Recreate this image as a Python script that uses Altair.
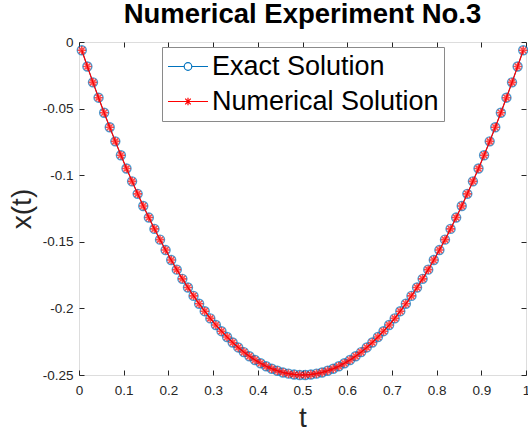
import altair as alt
import pandas as pd

# ---- data ----
t = [0.00625, 0.01875, 0.03125, 0.04375, 0.05625, 0.06875, 0.08125, 0.09375,
     0.10625, 0.11875, 0.13125, 0.14375, 0.15625, 0.16875, 0.18125, 0.19375,
     0.20625, 0.21875, 0.23125, 0.24375, 0.25625, 0.26875, 0.28125, 0.29375,
     0.30625, 0.31875, 0.33125, 0.34375, 0.35625, 0.36875, 0.38125, 0.39375,
     0.40625, 0.41875, 0.43125, 0.44375, 0.45625, 0.46875, 0.48125, 0.49375,
     0.50625, 0.51875, 0.53125, 0.54375, 0.55625, 0.56875, 0.58125, 0.59375,
     0.60625, 0.61875, 0.63125, 0.64375, 0.65625, 0.66875, 0.68125, 0.69375,
     0.70625, 0.71875, 0.73125, 0.74375, 0.75625, 0.76875, 0.78125, 0.79375,
     0.80625, 0.81875, 0.83125, 0.84375, 0.85625, 0.86875, 0.88125, 0.89375,
     0.90625, 0.91875, 0.93125, 0.94375, 0.95625, 0.96875, 0.98125, 0.99375]

exact = [-0.0062, -0.0184, -0.0303, -0.0418, -0.0531, -0.0640, -0.0746, -0.0850,
         -0.0950, -0.1046, -0.1140, -0.1231, -0.1318, -0.1403, -0.1484, -0.1562,
         -0.1637, -0.1709, -0.1778, -0.1843, -0.1906, -0.1965, -0.2021, -0.2075,
         -0.2125, -0.2171, -0.2215, -0.2256, -0.2293, -0.2328, -0.2359, -0.2387,
         -0.2412, -0.2434, -0.2453, -0.2468, -0.2481, -0.2490, -0.2496, -0.2500,
         -0.2500, -0.2496, -0.2490, -0.2481, -0.2468, -0.2453, -0.2434, -0.2412,
         -0.2387, -0.2359, -0.2328, -0.2293, -0.2256, -0.2215, -0.2171, -0.2125,
         -0.2075, -0.2021, -0.1965, -0.1906, -0.1843, -0.1778, -0.1709, -0.1637,
         -0.1562, -0.1484, -0.1403, -0.1318, -0.1231, -0.1140, -0.1046, -0.0950,
         -0.0850, -0.0746, -0.0640, -0.0531, -0.0418, -0.0303, -0.0184, -0.0062]

numerical = [-0.0062, -0.0184, -0.0303, -0.0418, -0.0531, -0.0640, -0.0746, -0.0850,
             -0.0950, -0.1046, -0.1140, -0.1231, -0.1318, -0.1403, -0.1484, -0.1562,
             -0.1637, -0.1709, -0.1778, -0.1843, -0.1906, -0.1965, -0.2021, -0.2075,
             -0.2125, -0.2171, -0.2215, -0.2256, -0.2293, -0.2328, -0.2359, -0.2387,
             -0.2412, -0.2434, -0.2453, -0.2468, -0.2481, -0.2490, -0.2496, -0.2500,
             -0.2500, -0.2496, -0.2490, -0.2481, -0.2468, -0.2453, -0.2434, -0.2412,
             -0.2387, -0.2359, -0.2328, -0.2293, -0.2256, -0.2215, -0.2171, -0.2125,
             -0.2075, -0.2021, -0.1965, -0.1906, -0.1843, -0.1778, -0.1709, -0.1637,
             -0.1562, -0.1484, -0.1403, -0.1318, -0.1231, -0.1140, -0.1046, -0.0950,
             -0.0850, -0.0746, -0.0640, -0.0531, -0.0418, -0.0303, -0.0184, -0.0062]

series_names = ["Exact Solution", "Numerical Solution"]
x_ticks = [0, 0.1, 0.2, 0.3, 0.4, 0.5, 0.6, 0.7, 0.8, 0.9, 1]
y_ticks = [-0.25, -0.2, -0.15, -0.1, -0.05, 0]

df = pd.DataFrame({
    "t": t + t,
    "x": exact + numerical,
    "series": [series_names[0]] * len(t) + [series_names[1]] * len(t),
})

FONT = "Liberation Sans"
BLUE = "#0072BD"
RED = "#FF0000"
AX = "#262626"

ASTER = "M-1,0H1M0,-1V1M-0.7,-0.7L0.7,0.7M-0.7,0.7L0.7,-0.7"
LEG_EXACT = "M-1,0H-0.19M0.19,0H1M0.19,0A0.19,0.19 0 1 1 -0.19,0A0.19,0.19 0 1 1 0.19,0Z"
LEG_NUM = "M-1,0H1M0,-0.19V0.19M-0.14,-0.14L0.14,0.14M-0.14,0.14L0.14,-0.14"

xs = alt.Scale(domain=[0, 1], nice=False, zero=False)
ys = alt.Scale(domain=[-0.25, 0], nice=False, zero=False)

label_x_axis = alt.Axis(
    orient="bottom", values=x_ticks, labelExpr="'' + datum.value",
    ticks=False, tickSize=0, domain=False, grid=False,
    labelFont=FONT, labelFontSize=13.5, labelColor=AX, labelPadding=8,
    labelFlush=False, labelOverlap=False, labelBound=False,
    title="t", titleFont=FONT, titleFontSize=28, titleFontWeight="normal",
    titleColor=AX, titleX=223.5, titleY=51, titleBaseline="alphabetic",
)
label_y_axis = alt.Axis(
    orient="left", values=y_ticks, labelExpr="'' + datum.value",
    ticks=False, tickSize=0, domain=False, grid=False,
    labelFont=FONT, labelFontSize=13.5, labelColor=AX, labelPadding=6,
    labelFlush=False, labelOverlap=False, labelBound=False, labelBaseline="middle",
    title="x(t)", titleFont=FONT, titleFontSize=28, titleFontWeight="normal",
    titleColor=AX, titleX=-57, titleY=166.5, titleBaseline="middle", titleAngle=270,
)


def tick_axis(orient, values):
    return alt.Axis(orient=orient, offset=-5, values=values, labels=False,
                    domain=False, grid=False, ticks=True, tickSize=5,
                    tickColor=AX, tickWidth=1, title=None)


legend = alt.Legend(
    title=None, orient="none", legendX=83, legendY=5, direction="vertical",
    symbolSize=1600, symbolStrokeWidth=1.2, symbolOpacity=1, symbolOffset=0,
    labelFont=FONT, labelFontSize=27, labelColor="black", labelOffset=3,
    labelLimit=400, clipHeight=29, rowPadding=6, padding=5,
    strokeColor="#8a8a8a", fillColor="white",
)

base = alt.Chart(df)

dummy = base.mark_point(opacity=0, filled=False).encode(
    x=alt.X("t:Q", scale=xs, axis=label_x_axis),
    y=alt.Y("x:Q", scale=ys, axis=label_y_axis),
    color=alt.Color("series:N", scale=alt.Scale(domain=series_names, range=[BLUE, RED]), legend=legend),
    shape=alt.Shape("series:N", scale=alt.Scale(domain=series_names, range=[LEG_EXACT, LEG_NUM]), legend=legend),
)

ex = base.transform_filter(alt.datum.series == series_names[0])
nu = base.transform_filter(alt.datum.series == series_names[1])

exact_line = ex.mark_line(color=BLUE, strokeWidth=1).encode(
    x=alt.X("t:Q", scale=xs, axis=tick_axis("bottom", x_ticks)),
    y=alt.Y("x:Q", scale=ys, axis=tick_axis("left", y_ticks)),
)
exact_pts = ex.mark_point(shape="circle", size=81, filled=False, color=BLUE, strokeWidth=1.4).encode(
    x=alt.X("t:Q", scale=xs, axis=tick_axis("top", x_ticks)),
    y=alt.Y("x:Q", scale=ys, axis=tick_axis("right", y_ticks)),
)
num_line = nu.mark_line(color=RED, strokeWidth=1.2).encode(
    x=alt.X("t:Q", scale=xs, axis=None),
    y=alt.Y("x:Q", scale=ys, axis=None),
)
num_pts = nu.mark_point(shape=ASTER, size=72, filled=False, color=RED, strokeWidth=1.6).encode(
    x=alt.X("t:Q", scale=xs, axis=None),
    y=alt.Y("x:Q", scale=ys, axis=None),
)

chart = alt.layer(dummy, exact_line, exact_pts, num_line, num_pts).resolve_axis(
    x="independent", y="independent"
).properties(
    width=447, height=333,
    title=alt.TitleParams("Numerical Experiment No.3", font=FONT, fontSize=27.5,
                          fontWeight="bold", color="black", anchor="middle",
                          offset=14, dy=29, baseline="alphabetic"),
    autosize=alt.AutoSizeParams(type="none"),
    padding={"left": 79, "top": 42, "right": 2, "bottom": 54},
).configure_view(stroke=AX, strokeWidth=1).configure(background="white")

chart.save("out.html", embed_options={"renderer": "svg", "actions": False})
